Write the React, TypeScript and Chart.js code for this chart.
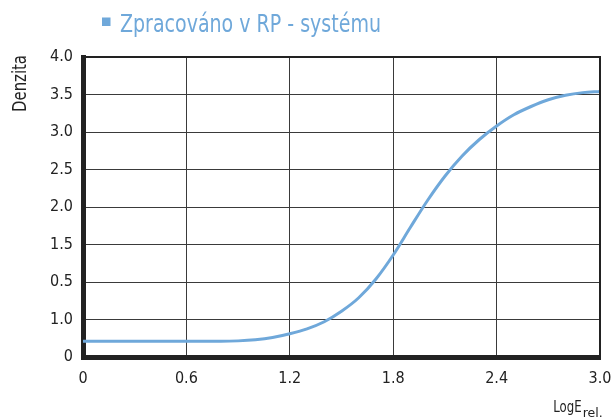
import React, { useEffect, useRef } from "react";
import { Chart, registerables } from "chart.js";

Chart.register(...registerables);

const xValues = [0, 0.6, 0.8, 0.9, 1.0, 1.1, 1.2, 1.3, 1.4, 1.5, 1.6, 1.7, 1.8, 1.9, 2.0, 2.1, 2.2, 2.3, 2.4, 2.5, 2.6, 2.7, 2.8, 2.9, 3.0];
const densityValues = [0.21, 0.21, 0.21, 0.215, 0.23, 0.26, 0.31, 0.375, 0.47, 0.61, 0.79, 1.04, 1.36, 1.73, 2.09, 2.41, 2.68, 2.9, 3.08, 3.23, 3.34, 3.43, 3.49, 3.525, 3.54];
const xTickValues = [0, 0.6, 1.2, 1.8, 2.4, 3.0];
const xTickLabels = ["0", "0.6", "1.2", "1.8", "2.4", "3.0"];
const yTickValues = [0, 0.5, 1.0, 1.5, 2.0, 2.5, 3.0, 3.5, 4.0];
const yTickLabels = ["0", "1.0", "0.5", "1.5", "2.0", "2.5", "3.0", "3.5", "4.0"];
const seriesName = "Zpracováno v RP - systému";
const yTitle = "Denzita";
const xTitleMain = "LogE";
const xTitleSub = "rel.";

const LINE_COLOR = "#6fa8da";
const TEXT_COLOR = "#222222";
const FONT = "'Liberation Sans Narrow', 'DejaVu Sans Condensed', Roboto, sans-serif";

function fitText(ctx: CanvasRenderingContext2D, text: string, x: number, y: number, targetW: number) {
  const w = ctx.measureText(text).width;
  const s = targetW / w;
  ctx.save();
  ctx.translate(x, y);
  ctx.scale(s, 1);
  ctx.fillText(text, 0, 0);
  ctx.restore();
}

const decorPlugin = {
  id: "decor",
  afterDraw(chart: any) {
    const ctx = chart.ctx as CanvasRenderingContext2D;
    const a = chart.chartArea;
    ctx.save();
    ctx.strokeStyle = "#222";
    ctx.lineWidth = 2;
    ctx.beginPath();
    ctx.moveTo(a.left, a.top);
    ctx.lineTo(a.right, a.top);
    ctx.lineTo(a.right, a.bottom);
    ctx.stroke();
    ctx.fillStyle = LINE_COLOR;
    ctx.fillRect(102, 17.5, 8.5, 8.5);
    ctx.font = `25px ${FONT}`;
    ctx.textBaseline = "alphabetic";
    ctx.textAlign = "left";
    fitText(ctx, seriesName, 120, 32.3, 261);
    ctx.fillStyle = TEXT_COLOR;
    ctx.font = `19px ${FONT}`;
    ctx.save();
    ctx.translate(26, 112);
    ctx.rotate(-Math.PI / 2);
    fitText(ctx, yTitle, 0, 0, 57);
    ctx.restore();
    ctx.font = `15px ${FONT}`;
    fitText(ctx, xTitleMain, 553.3, 412.3, 28.4);
    ctx.font = `13px ${FONT}`;
    fitText(ctx, xTitleSub, 582.7, 416.5, 20);
    ctx.restore();
  },
};

export default function App() {
  const ref = useRef<HTMLCanvasElement | null>(null);
  useEffect(() => {
    if (!ref.current) return;
    const chart = new Chart(ref.current, {
      type: "line",
      data: {
        datasets: [
          {
            label: seriesName,
            data: xValues.map((x, i) => ({ x, y: densityValues[i] })),
            borderColor: LINE_COLOR,
            borderWidth: 3,
            pointRadius: 0,
            cubicInterpolationMode: "monotone",
            fill: false,
          },
        ],
      },
      options: {
        animation: false,
        responsive: false,
        maintainAspectRatio: false,
        layout: { padding: { top: 57, right: 15, left: 0, bottom: 0 } },
        plugins: { legend: { display: false }, tooltip: { enabled: false } },
        scales: {
          x: {
            type: "linear",
            min: 0,
            max: 3,
            afterFit: (s: any) => {
              s.height = 62;
              s.paddingLeft = 0;
              s.paddingRight = 0;
            },
            afterBuildTicks: (s: any) => {
              s.ticks = xTickValues.map((v) => ({ value: v }));
            },
            ticks: {
              padding: 12,
              color: TEXT_COLOR,
              font: { family: FONT, size: 16 },
              maxRotation: 0,
              autoSkip: false,
              callback: (v: any) => {
                const i = xTickValues.findIndex((t) => Math.abs(t - Number(v)) < 1e-6);
                return i >= 0 ? xTickLabels[i] : "";
              },
            },
            grid: { color: "#3a3a3a", lineWidth: 1, drawTicks: false },
            border: { display: true, color: "#222", width: 5 },
          },
          y: {
            type: "linear",
            min: 0,
            max: 4,
            afterFit: (s: any) => {
              s.width = 83;
              s.paddingTop = 0;
              s.paddingBottom = 0;
            },
            afterBuildTicks: (s: any) => {
              s.ticks = yTickValues.map((v) => ({ value: v }));
            },
            ticks: {
              padding: 10,
              color: TEXT_COLOR,
              font: { family: FONT, size: 16 },
              autoSkip: false,
              callback: (v: any) => {
                const i = yTickValues.findIndex((t) => Math.abs(t - Number(v)) < 1e-6);
                return i >= 0 ? yTickLabels[i] : "";
              },
            },
            grid: { color: "#3a3a3a", lineWidth: 1, drawTicks: false },
            border: { display: true, color: "#222", width: 5 },
          },
        },
      },
      plugins: [decorPlugin],
    } as any);
    return () => chart.destroy();
  }, []);
  return (
    <div style={{ position: "fixed", left: 0, top: 0, width: 615, height: 419, background: "#fff" }}>
      <canvas ref={ref} width={615} height={419} style={{ display: "block" }} />
    </div>
  );
}
